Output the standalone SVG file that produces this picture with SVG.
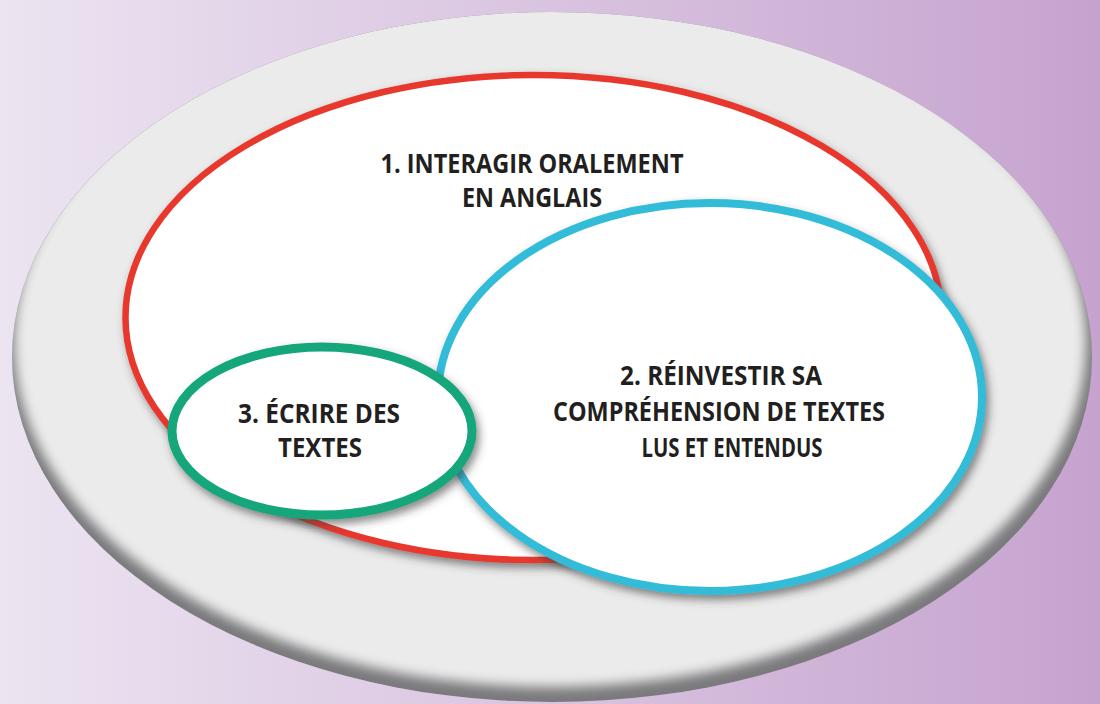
<svg xmlns="http://www.w3.org/2000/svg" width="1100" height="704" viewBox="0 0 1100 704">
  <defs>
    <linearGradient id="bg" x1="0" y1="0" x2="1" y2="0">
      <stop offset="0" stop-color="#ece4f1"/>
      <stop offset="1" stop-color="#c6a3cf"/>
    </linearGradient>
    <clipPath id="plateClip">
      <ellipse cx="552" cy="357" rx="540" ry="345"/>
    </clipPath>
    <filter id="blurPlate" x="-10%" y="-10%" width="120%" height="120%">
      <feGaussianBlur stdDeviation="6"/>
    </filter>
    <filter id="shadow" x="-10%" y="-10%" width="125%" height="125%">
      <feDropShadow dx="3" dy="5" stdDeviation="4" flood-color="#3a3a3a" flood-opacity="0.6"/>
    </filter>
    <style>
      .lbl { font-family: "Open Sans", "DejaVu Sans", sans-serif; font-weight: 700; font-size: 27px; fill: #231f20; text-anchor: middle; }
      .node { fill: #ffffff; filter: url(#shadow); }
    </style>
  </defs>

  <rect x="0" y="0" width="1100" height="704" fill="url(#bg)"/>

  <g id="plate">
    <ellipse cx="552" cy="357" rx="540" ry="345" fill="#7a7a7c"/>
    <g clip-path="url(#plateClip)">
      <ellipse cx="550" cy="342" rx="536" ry="345" fill="#ebebec" filter="url(#blurPlate)"/>
    </g>
  </g>

  <g id="connectors"></g>

  <g id="node1">
    <ellipse class="node" cx="533.5" cy="317.5" rx="408" ry="242.5" stroke="#e8392f" stroke-width="6.5"/>
    <text class="lbl" x="532" y="173" textLength="303" lengthAdjust="spacingAndGlyphs">1. INTERAGIR ORALEMENT</text>
    <text class="lbl" x="532" y="207" textLength="140" lengthAdjust="spacingAndGlyphs">EN ANGLAIS</text>
  </g>

  <g id="node2">
    <ellipse class="node" cx="710" cy="397" rx="272" ry="194" stroke="#33bcd8" stroke-width="8"/>
    <text class="lbl" x="721" y="385" textLength="202" lengthAdjust="spacingAndGlyphs">2. RÉINVESTIR SA</text>
    <text class="lbl" x="719" y="421" textLength="332" lengthAdjust="spacingAndGlyphs">COMPRÉHENSION DE TEXTES</text>
    <text class="lbl" x="732" y="457" textLength="181" lengthAdjust="spacingAndGlyphs">LUS ET ENTENDUS</text>
  </g>

  <g id="node3">
    <ellipse class="node" cx="322" cy="431" rx="150" ry="84" stroke="#12a67c" stroke-width="9"/>
    <text class="lbl" x="319" y="423" textLength="162" lengthAdjust="spacingAndGlyphs">3. ÉCRIRE DES</text>
    <text class="lbl" x="320" y="457" textLength="84" lengthAdjust="spacingAndGlyphs">TEXTES</text>
  </g>
</svg>
